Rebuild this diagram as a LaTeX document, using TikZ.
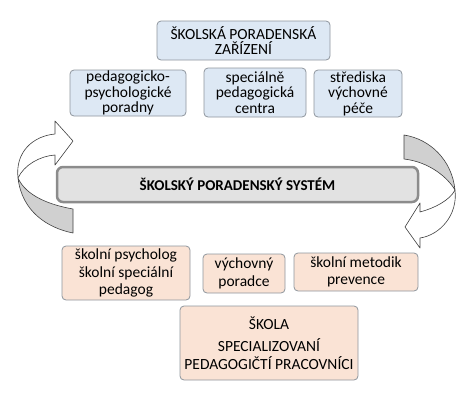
\documentclass[tikz,border=0pt]{standalone}
\usepackage{fontspec}
\setmainfont{Carlito}
\definecolor{blueboxfill}{HTML}{DDE8F4}
\definecolor{peachfill}{HTML}{FAE3D5}
\definecolor{boxline}{HTML}{8E959D}
\definecolor{barfill}{HTML}{E2E2E2}
\definecolor{barline}{HTML}{8C8C8C}
\definecolor{ribbongray}{HTML}{D0D0D0}
\tikzset{
	bluebox/.style={draw=boxline,fill=blueboxfill,rounded corners=4pt,line width=0.8pt,align=center,inner sep=0pt,font=\fontsize{15.5}{15.5}\selectfont},
	peachbox/.style={draw=boxline,fill=peachfill,rounded corners=4pt,line width=0.8pt,align=center,inner sep=0pt,font=\fontsize{15.5}{17.5}\selectfont},
	systembar/.style={draw=barline,fill=barfill,rounded corners=6pt,line width=2.5pt,inner sep=0pt,font=\fontsize{15}{17}\selectfont\bfseries},
	ribbon/.style={draw=black!75,line width=0.6pt,line join=round}
}
\begin{document}
\begin{tikzpicture}[x=1pt,y=-1pt]
	\useasboundingbox (0,0) rectangle (472,400);
	% poradenska zarizeni
	\node[bluebox,minimum width=173pt,minimum height=39pt] (zarizeni) at (243.5,40.5) {ŠKOLSKÁ PORADENSKÁ\\ZAŘÍZENÍ};
	\node[bluebox,minimum width=116pt,minimum height=46pt] (ppp) at (128,93) {pedagogicko-\\psychologické\\poradny};
	\node[bluebox,minimum width=102pt,minimum height=49pt] (spc) at (255,92.5) {speciálně\\pedagogická\\centra};
	\node[bluebox,minimum width=88pt,minimum height=47pt] (svp) at (358,93.5) {střediska\\výchovné\\péče};
	% system
	\node[systembar,minimum width=361pt,minimum height=35pt] (system) at (237.5,184.5) {ŠKOLSKÝ PORADENSKÝ SYSTÉM};
	% skola
	\node[peachbox,minimum width=128pt,minimum height=54pt] (psycholog) at (126,273) {školní psycholog\\školní speciální\\pedagog};
	\node[peachbox,minimum width=82pt,minimum height=39pt] (poradce) at (244,273.5) {výchovný\\poradce};
	\node[peachbox,minimum width=124pt,minimum height=38pt] (metodik) at (356,272) {školní metodik\\prevence};
	\node[peachbox,minimum width=178pt,minimum height=74pt] (skola) at (269,343) {ŠKOLA\\[5pt]SPECIALIZOVANÍ\\PEDAGOGIČTÍ PRACOVNÍCI};
	% left arrow
	\draw[ribbon,fill=ribbongray] (18,178) .. controls (22,212) and (48,228) .. (73,233) -- (73,209) .. controls (50,205) and (26,196) .. (18,178) -- cycle;
	\draw[ribbon,fill=white] (18,178) .. controls (15,152) and (33,136) .. (55,134) -- (55,121) -- (73,141) -- (55,165) -- (55,155) .. controls (40,156) and (24,165) .. (18,178) -- cycle;
	% right arrow
	\draw[ribbon,fill=ribbongray] (404,135) .. controls (430,139) and (452,160) .. (455,190) .. controls (448,178) and (430,162) .. (404,159) -- cycle;
	\draw[ribbon,fill=white] (455,190) .. controls (458,215) and (440,235) .. (420,238) -- (420,248) -- (405,227) -- (420,203) -- (420,212) .. controls (435,208) and (450,200) .. (455,190) -- cycle;
\end{tikzpicture}
\end{document}
